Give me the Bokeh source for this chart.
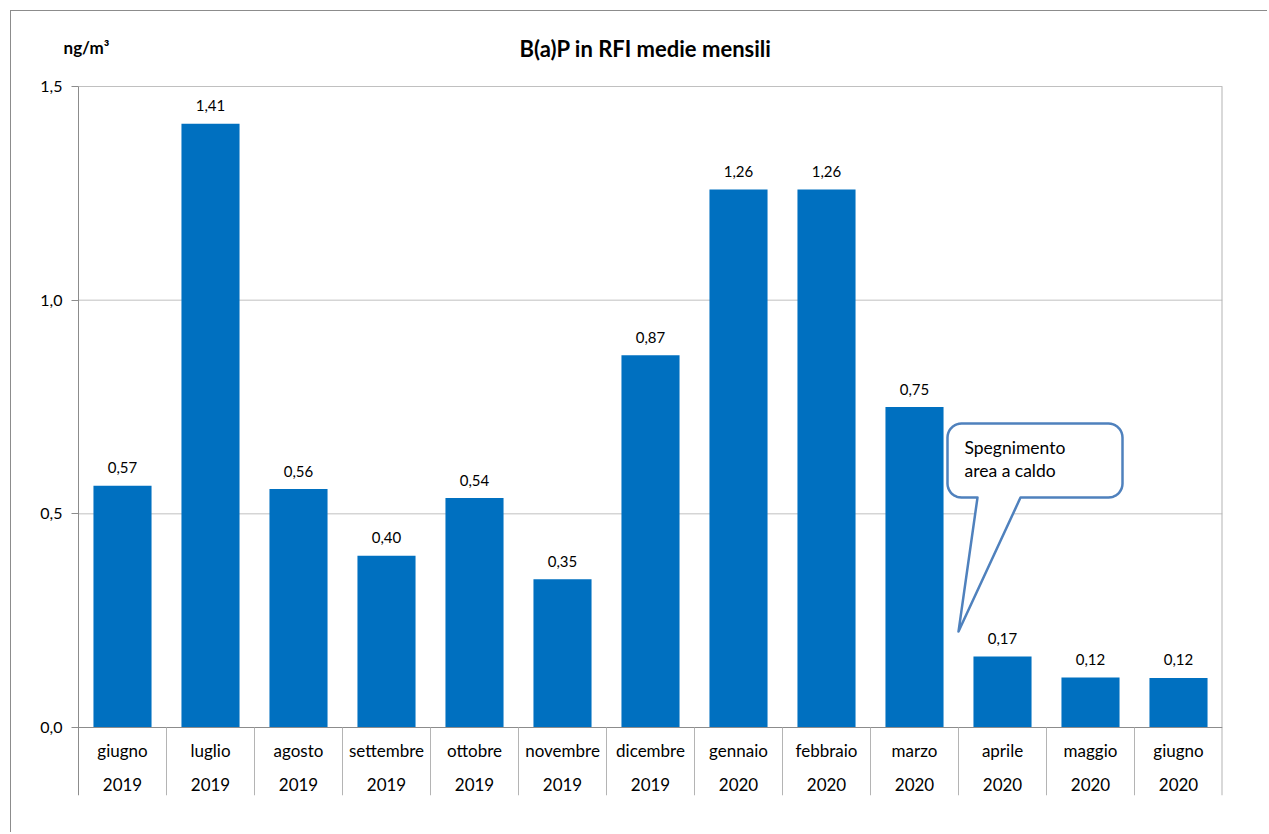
import numpy as np
from bokeh.plotting import figure
from bokeh.models import Range1d, FixedTicker, CustomJSTickFormatter
from bokeh.core.properties import value
from bokeh.embed import file_html
from bokeh.resources import INLINE

# ---------------- data ----------------
months = ["giugno", "luglio", "agosto", "settembre", "ottobre", "novembre", "dicembre",
          "gennaio", "febbraio", "marzo", "aprile", "maggio", "giugno"]
years = ["2019", "2019", "2019", "2019", "2019", "2019", "2019",
         "2020", "2020", "2020", "2020", "2020", "2020"]
values = [0.566, 1.413, 0.558, 0.402, 0.537, 0.347, 0.871, 1.259, 1.259, 0.750, 0.166, 0.117, 0.116]
y_ticks = [0.0, 0.5, 1.0, 1.5]
title_text = "B(a)P in RFI medie mensili"
unit_text = "ng/m³"
note_lines = ["Spegnimento", "area a caldo"]
note_category = 10  # aprile 2020

# ---------------- layout ----------------
FONT = "Lato"
FIG_W = 1257
B_RIGHT, B_BOTTOM = 46, 38
LEFT_PAD = 67       # px from frame left to category axis start (x = 0)
PLOT_W = 1144       # px spanned by the categories
TOP_PAD = 75        # px from frame top to the top tick
PLOT_H = 641        # px from top tick to zero
CAT_H = 68          # px of the category band under zero
FRAME_H = TOP_PAD + PLOT_H + CAT_H
FIG_H = FRAME_H + B_BOTTOM
N = len(values)
XPX = N / PLOT_W
Y_TOP = y_ticks[-1]
PX_PER_UNIT = PLOT_H / Y_TOP
YPX = 1.0 / PX_PER_UNIT
Y_MAX = Y_TOP + TOP_PAD * YPX
Y_MIN = -CAT_H * YPX
X_MIN = -LEFT_PAD * XPX

centers = [i + 0.5 for i in range(N)]
labels = [f"{v:.2f}".replace(".", ",") for v in values]

p = figure(width=FIG_W, height=FIG_H, x_range=Range1d(X_MIN, N), y_range=Range1d(Y_MIN, Y_MAX),
           output_backend="svg", toolbar_location=None, x_axis_location=None,
           min_border_left=0, min_border_top=0, min_border_right=B_RIGHT,
           min_border_bottom=B_BOTTOM)
p.styles = {"border-left": "1px solid #8c8c8c", "border-top": "1px solid #8c8c8c",
            "margin-left": "10px", "margin-top": "10px"}
p.outline_line_color = None
p.background_fill_color = "white"
p.border_fill_color = "white"
p.xgrid.visible = False
p.ygrid.visible = False

# y axis drawn at x = 0, spanning the value area and the category band
ax = p.yaxis[0]
ax.fixed_location = 0
ax.bounds = (Y_MIN, Y_TOP)
ax.ticker = FixedTicker(ticks=y_ticks)
ax.formatter = CustomJSTickFormatter(code="return tick.toFixed(1).replace('.', ',');")
ax.axis_line_color = "#8c8c8c"
ax.axis_line_width = 1
ax.major_tick_line_color = "#8c8c8c"
ax.major_tick_out = 7
ax.major_tick_in = 0
ax.minor_tick_line_color = None
ax.major_label_standoff = 9
ax.major_label_text_font = FONT
ax.major_label_text_font_size = "16px"
ax.major_label_text_color = "black"

# horizontal gridlines (between the axis and the right border)
grid_y = y_ticks[1:]
p.segment(x0=[0] * len(grid_y), y0=grid_y, x1=[N] * len(grid_y), y1=grid_y,
          line_color="#c0c0c0", line_width=1)

# bars
p.vbar(x=centers, top=values, bottom=0, width=0.66, fill_color="#0070c0", line_color=None)

# right border and baseline
p.segment(x0=[N], y0=[Y_MIN], x1=[N], y1=[Y_TOP], line_color="#b4b4b4", line_width=2)
p.segment(x0=[0], y0=[0], x1=[N], y1=[0], line_color="#8c8c8c", line_width=1)

# category separators
bounds = list(range(1, N))
p.segment(x0=bounds, y0=[0] * len(bounds), x1=bounds, y1=[Y_MIN] * len(bounds),
          line_color="#b4b4b4", line_width=1)

# data labels
p.text(x=centers, y=values, text=labels, y_offset=-18, text_align="center",
       text_baseline="middle", text_font=value(FONT), text_font_size="15px", text_color="black")

# category labels
p.text(x=centers, y=[0] * N, text=months, y_offset=23, text_align="center",
       text_baseline="middle", text_font=value(FONT), text_font_size="17px", text_color="black")
p.text(x=centers, y=[0] * N, text=years, y_offset=57, text_align="center",
       text_baseline="middle", text_font=value(FONT), text_font_size="17px", text_color="black")

# title and unit
p.text(x=[N / 2 - 5 * XPX], y=[Y_TOP + 38 * YPX], text=[title_text], text_align="center",
       text_baseline="middle", text_font=value(FONT), text_font_style="bold",
       text_font_size="22px", text_color="black")
p.text(x=[8 * XPX], y=[Y_TOP + 39 * YPX], text=[unit_text], text_align="center",
       text_baseline="middle", text_font=value(FONT), text_font_style="bold",
       text_font_size="17px", text_color="black")

# callout (speech bubble) anchored at the left edge of the note category
tip_x = note_category
tip_y = values[note_category] + 25 * YPX
L, R, Bm, T, r = -11, 164, 134, 208, 14
pts = [(0, 0), (62, Bm)]
def arc(cx, cy, a0, a1):
    return [(cx + r * np.cos(np.radians(a)), cy + r * np.sin(np.radians(a)))
            for a in np.linspace(a0, a1, 10)]
pts += arc(R - r, Bm + r, -90, 0)
pts += arc(R - r, T - r, 0, 90)
pts += arc(L + r, T - r, 90, 180)
pts += arc(L + r, Bm + r, 180, 270)
pts += [(19, Bm), (0, 0)]
cx = [tip_x + px * XPX for px, _ in pts]
cy = [tip_y + py * YPX for _, py in pts]
p.patch(cx, cy, fill_color="white", line_color="#4f81bd", line_width=2.5, line_join="round")
p.text(x=[tip_x + 6 * XPX] * 2, y=[tip_y + 184 * YPX, tip_y + 161 * YPX], text=note_lines,
       text_align="left", text_baseline="middle", text_font=value(FONT),
       text_font_size="17.5px", text_color="black")

open("out.html", "w").write(file_html(p, INLINE))
